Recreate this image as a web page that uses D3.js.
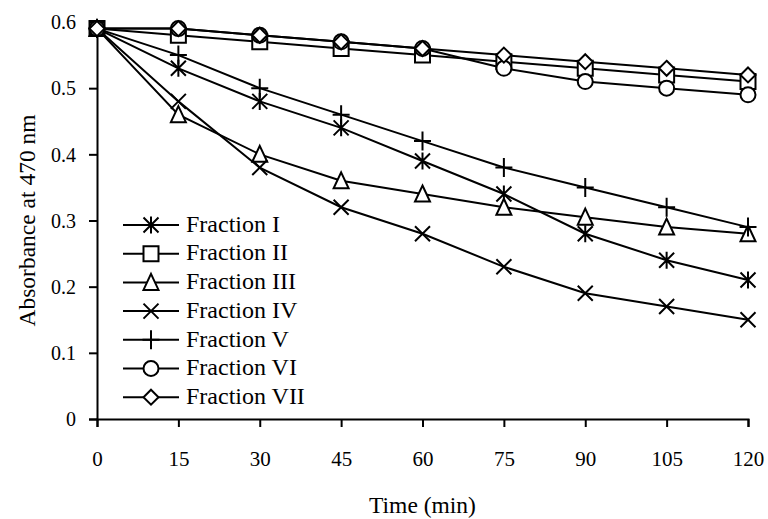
<!DOCTYPE html>
<html>
<head>
<meta charset="utf-8">
<script src="https://cdn.jsdelivr.net/npm/d3@7"></script>
<style>
  body { margin: 0; background: #fff; }
  svg text { font-family: "Liberation Serif", "Times New Roman", serif; fill: #000; }
</style>
</head>
<body>
<div id="chart"></div>
<script>
// Donnees
const times = [0, 15, 30, 45, 60, 75, 90, 105, 120];
const yTicks = [0, 0.1, 0.2, 0.3, 0.4, 0.5, 0.6];
const names = ["Fraction I", "Fraction II", "Fraction III", "Fraction IV",
    "Fraction V", "Fraction VI", "Fraction VII"];
const markers = ["star", "square", "triangle", "x", "plus", "circle", "diamond"];
const fractionI   = [0.59, 0.53, 0.48, 0.44, 0.39, 0.34, 0.28, 0.24, 0.21];
const fractionII  = [0.59, 0.58, 0.57, 0.56, 0.55, 0.54, 0.53, 0.52, 0.51];
const fractionIII = [0.59, 0.46, 0.40, 0.36, 0.34, 0.32, 0.305, 0.29, 0.28];
const fractionIV  = [0.59, 0.48, 0.38, 0.32, 0.28, 0.23, 0.19, 0.17, 0.15];
const fractionV   = [0.59, 0.55, 0.50, 0.46, 0.42, 0.38, 0.35, 0.32, 0.29];
const fractionVI  = [0.59, 0.59, 0.58, 0.57, 0.56, 0.53, 0.51, 0.50, 0.49];
const fractionVII = [0.59, 0.59, 0.58, 0.57, 0.56, 0.55, 0.54, 0.53, 0.52];
const series = [fractionI, fractionII, fractionIII, fractionIV, fractionV, fractionVI, fractionVII];

// Dimensions et marges
const margin = {top: 22, right: 20, bottom: 100, left: 97},
    width = 768 - margin.left - margin.right,
    height = 519 - margin.top - margin.bottom;

const svg = d3.select("#chart")
    .append("svg")
    .attr("width", 768)
    .attr("height", 519)
    .append("g")
    .attr("transform", `translate(${margin.left},${margin.top})`);

const x = d3.scaleLinear().domain([0, 120]).range([0, width]);
const y = d3.scaleLinear().domain([0, 0.6]).range([height, 0]);

// Formes des marqueurs (centrees sur 0,0)
function markerPath(type) {
    const r = 7.5;
    switch (type) {
        case "star": return `M${-r},${-r}L${r},${r}M${-r},${r}L${r},${-r}M0,${-r - 1}L0,${r + 1}`;
        case "square": return `M${-r},${-r}H${r}V${r}H${-r}Z`;
        case "triangle": return `M0,${-r - 1}L${r},${r}H${-r}Z`;
        case "x": return `M${-r},${-r}L${r},${r}M${-r},${r}L${r},${-r}`;
        case "plus": return `M${-r - 1},0H${r + 1}M0,${-r - 2}V${r + 2}`;
        case "circle": return `M${r},0A${r},${r} 0 1,1 ${-r},0A${r},${r} 0 1,1 ${r},0Z`;
        case "diamond": return `M0,${-r}L${r},0L0,${r}L${-r},0Z`;
    }
}

// Axe Y
const yAxis = svg.append("g")
    .call(d3.axisLeft(y).tickValues(yTicks).tickSize(8).tickPadding(13)
        .tickFormat(d => d === 0 ? "0" : d3.format(".1f")(d)));
yAxis.selectAll("text").style("font-size", "20px").attr("dy", "0.34em");

// Axe X
const xAxis = svg.append("g")
    .attr("transform", `translate(0,${height})`)
    .call(d3.axisBottom(x).tickValues(times).tickSize(8).tickPadding(24));
xAxis.selectAll("text").style("font-size", "21px");

svg.selectAll(".domain, .tick line").attr("stroke", "#000").attr("stroke-width", 2);

// Titres des axes
svg.append("text")
    .attr("text-anchor", "middle")
    .attr("transform", `translate(-62,${height / 2}) rotate(-90)`)
    .style("font-size", "23.5px")
    .text("Absorbance at 470 nm");
svg.append("text")
    .attr("text-anchor", "middle")
    .attr("x", width / 2)
    .attr("y", height + 94)
    .style("font-size", "23.5px")
    .text("Time (min)");

// Courbes et marqueurs
const line = d3.line()
    .x((d, i) => x(times[i]))
    .y(d => y(d));

series.forEach(function(vals, k) {
    svg.append("path")
        .datum(vals)
        .attr("fill", "none")
        .attr("stroke", "#000")
        .attr("stroke-width", 2)
        .attr("d", line);
});
series.forEach(function(vals, k) {
    svg.append("g").selectAll("path")
        .data(vals)
        .join("path")
        .attr("transform", (d, i) => `translate(${x(times[i])},${y(d)})`)
        .attr("d", markerPath(markers[k]))
        .attr("fill", "#fff")
        .attr("stroke", "#000")
        .attr("stroke-width", 2);
});

// Legende
const legend = svg.append("g").attr("transform", "translate(26,203)");
names.forEach(function(name, k) {
    const row = legend.append("g").attr("transform", `translate(0,${k * 28.7})`);
    row.append("line")
        .attr("x1", 0).attr("x2", 56)
        .attr("stroke", "#000").attr("stroke-width", 2);
    row.append("path")
        .attr("transform", "translate(28,0)")
        .attr("d", markerPath(markers[k]))
        .attr("fill", "#fff")
        .attr("stroke", "#000")
        .attr("stroke-width", 2);
    row.append("text")
        .attr("x", 63)
        .attr("dy", "0.28em")
        .style("font-size", "24px")
        .text(name);
});
</script>
</body>
</html>
